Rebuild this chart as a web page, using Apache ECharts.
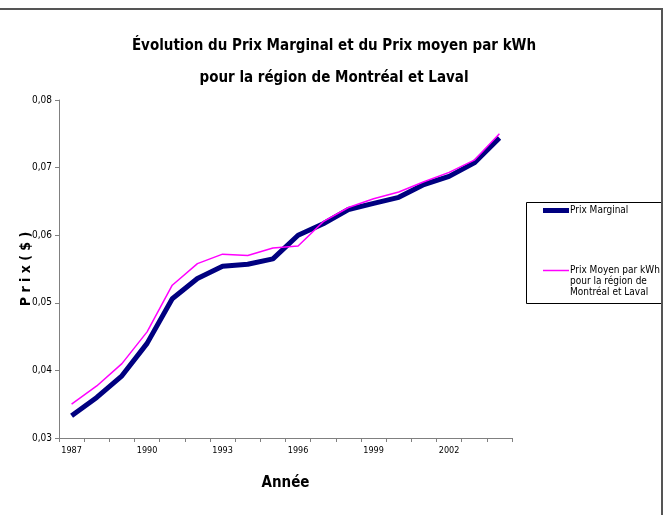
<!DOCTYPE html>
<html>
<head>
<meta charset="utf-8">
<script src="https://cdn.jsdelivr.net/npm/echarts@6/dist/echarts.min.js"></script>
<style>
  html, body { margin: 0; padding: 0; background: #fff; }
  #chart { width: 668px; height: 515px; }
</style>
</head>
<body>
<div id="chart"></div>
<script>
var FONT = "'Liberation Sans Narrow', 'DejaVu Sans Condensed', sans-serif";

// années
var years = ['1987', '1988', '1989', '1990', '1991', '1992', '1993', '1994', '1995',
  '1996', '1997', '1998', '1999', '2000', '2001', '2002', '2003', '2004'];
// prix marginal ($/kWh)
var prixMarginal = [0.0333, 0.0360, 0.0392, 0.0440, 0.0506, 0.0536, 0.0554, 0.0557, 0.0565,
  0.0600, 0.0617, 0.0638, 0.0647, 0.0656, 0.0675, 0.0687, 0.0707, 0.0744];
// prix moyen par kWh
var prixMoyen = [0.0350, 0.0377, 0.0410, 0.0457, 0.0526, 0.0558, 0.0572, 0.0570, 0.0581,
  0.0584, 0.0620, 0.0641, 0.0654, 0.0664, 0.0679, 0.0693, 0.0711, 0.0750];

var nomMoyen = 'Prix Moyen par kWh\npour la région de\nMontréal et Laval';

var myChart = echarts.init(document.getElementById('chart'));
var option = {
  animation: false,
  backgroundColor: '#fff',
  title: {
    text: 'Évolution du Prix Marginal et du Prix moyen par kWh\npour la région de Montréal et Laval',
    left: 'center',
    top: 25,
    textStyle: {
      fontFamily: FONT,
      fontSize: 15,
      fontWeight: 'bold',
      color: '#000',
      lineHeight: 32
    }
  },
  grid: { left: 59, right: 156, top: 100, bottom: 77 },
  legend: {
    orient: 'vertical',
    left: 538,
    top: 200,
    itemWidth: 26,
    itemHeight: 10,
    itemGap: 27,
    data: [
      { name: 'Prix Marginal', icon: 'path://M0,0h26v5h-26z', itemStyle: { color: '#000080' } },
      { name: nomMoyen, icon: 'path://M0,0h26v1.5h-26z', itemStyle: { color: '#ff00ff' } }
    ],
    // icône alignée sur la première ligne du texte
    formatter: function (name) {
      return name.indexOf('\n') >= 0 ? ' \n \n' + name : name;
    },
    textStyle: { fontFamily: FONT, fontSize: 10, color: '#000', lineHeight: 11, padding: [0, 0, 0, -4] }
  },
  xAxis: {
    type: 'category',
    data: years,
    boundaryGap: true,
    name: 'Année',
    nameLocation: 'middle',
    nameGap: 38,
    nameTextStyle: { fontFamily: FONT, fontSize: 15, fontWeight: 'bold', color: '#000' },
    axisLine: { lineStyle: { color: '#808080', width: 1 } },
    axisTick: { show: true, interval: 0, length: 4, lineStyle: { color: '#808080' } },
    axisLabel: { interval: 2, margin: 8, fontFamily: FONT, fontSize: 9, color: '#000' },
    splitLine: { show: false }
  },
  yAxis: {
    type: 'value',
    min: 0.03,
    max: 0.08,
    interval: 0.01,
    name: 'P r i x ( $ )',
    nameLocation: 'middle',
    nameGap: 26,
    nameMoveOverlap: false,
    nameTextStyle: { fontFamily: FONT, fontSize: 14, fontWeight: 'bold', color: '#000' },
    axisLine: { show: true, lineStyle: { color: '#808080', width: 1 } },
    axisTick: { show: true, length: 4, lineStyle: { color: '#808080' } },
    axisLabel: {
      margin: 7,
      fontFamily: FONT,
      fontSize: 10,
      color: '#000',
      formatter: function (v) { return v.toFixed(2).replace('.', ','); }
    },
    splitLine: { show: false }
  },
  series: [
    {
      name: 'Prix Marginal',
      type: 'line',
      data: prixMarginal,
      symbol: 'none',
      lineStyle: { color: '#000080', width: 5 },
      itemStyle: { color: '#000080' }
    },
    {
      name: nomMoyen,
      type: 'line',
      data: prixMoyen,
      symbol: 'none',
      lineStyle: { color: '#ff00ff', width: 1.5 },
      itemStyle: { color: '#ff00ff' }
    }
  ],
  graphic: [
    {
      type: 'polyline',
      shape: { points: [[0, 9], [662, 9], [662, 515]] },
      style: { stroke: '#555', lineWidth: 2, fill: null }
    },
    {
      type: 'rect',
      shape: { x: 526.5, y: 202.5, width: 135, height: 101 },
      style: { stroke: '#000', lineWidth: 1, fill: null },
      z: -1
    }
  ]
};
myChart.setOption(option);
window.addEventListener('resize', function () { myChart.resize(); });
</script>
</body>
</html>
